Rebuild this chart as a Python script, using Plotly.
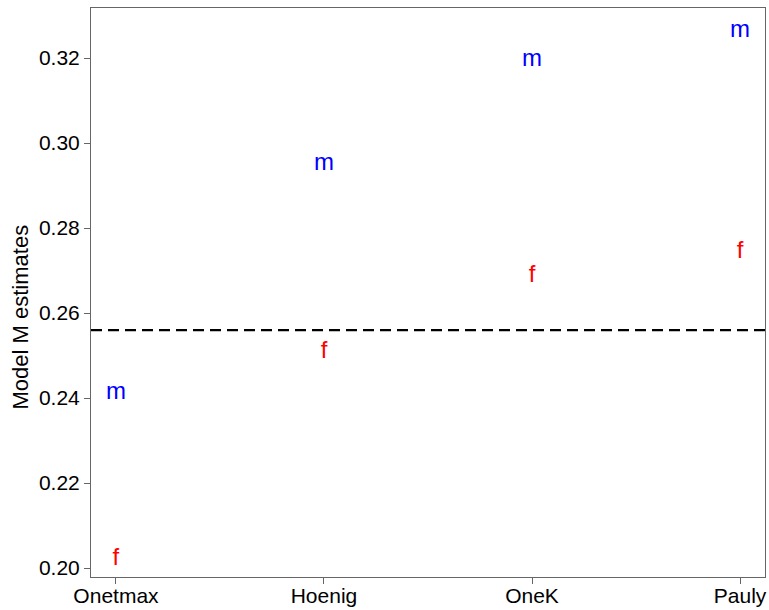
import plotly.graph_objects as go

methods = ["Onetmax", "Hoenig", "OneK", "Pauly"]
m_vals = [0.2411, 0.2950, 0.3195, 0.3263]
f_vals = [0.2021, 0.2508, 0.2687, 0.2743]
ref_line = 0.256
y_ticks = [0.20, 0.22, 0.24, 0.26, 0.28, 0.30, 0.32]
x_pos = [1, 2, 3, 4]

fig = go.Figure()
fig.add_trace(go.Scatter(x=x_pos, y=m_vals, mode="text", text=["m"] * 4,
                         textfont=dict(color="#0000ff", size=24, family="Liberation Sans"),
                         textposition="middle center", showlegend=False))
fig.add_trace(go.Scatter(x=x_pos, y=f_vals, mode="text", text=["f"] * 4,
                         textfont=dict(color="#ff0000", size=24, family="Liberation Sans"),
                         textposition="middle center", showlegend=False))
fig.add_trace(go.Scatter(x=[0.88, 4.12], y=[ref_line, ref_line], mode="lines",
                         line=dict(color="black", width=2.2, dash="11px,6px"), showlegend=False))

fig.update_layout(
    width=769, height=610,
    margin=dict(l=91, r=4, t=8, b=33, autoexpand=False),
    plot_bgcolor="white", paper_bgcolor="white",
    font=dict(family="Liberation Sans", color="black"),
)
fig.add_annotation(text="Model M estimates", textangle=-90, showarrow=False,
                   xref="paper", yref="paper", x=-0.1046, y=0.457,
                   xanchor="center", yanchor="middle",
                   font=dict(size=22, family="Liberation Sans", color="black"))
fig.update_xaxes(range=[0.88, 4.12], tickvals=x_pos, ticktext=methods, automargin=False,
                 showgrid=False, zeroline=False, showline=True, mirror=True,
                 linecolor="#666666", linewidth=1, ticks="outside", ticklen=6,
                 tickcolor="#666666", tickfont=dict(size=21), ticklabelstandoff=-6)
fig.update_yaxes(range=[0.1979, 0.3318], tickvals=y_ticks, automargin=False,
                 ticktext=[f"{v:.2f}" for v in y_ticks],
                 showgrid=False, zeroline=False, showline=True, mirror=True,
                 linecolor="#666666", linewidth=1, ticks="outside", ticklen=6,
                 tickcolor="#666666", tickfont=dict(size=21))

fig.write_html("out.html", config={"displayModeBar": False},
               post_script="document.body.style.margin='0px';document.body.style.overflow='hidden';")
